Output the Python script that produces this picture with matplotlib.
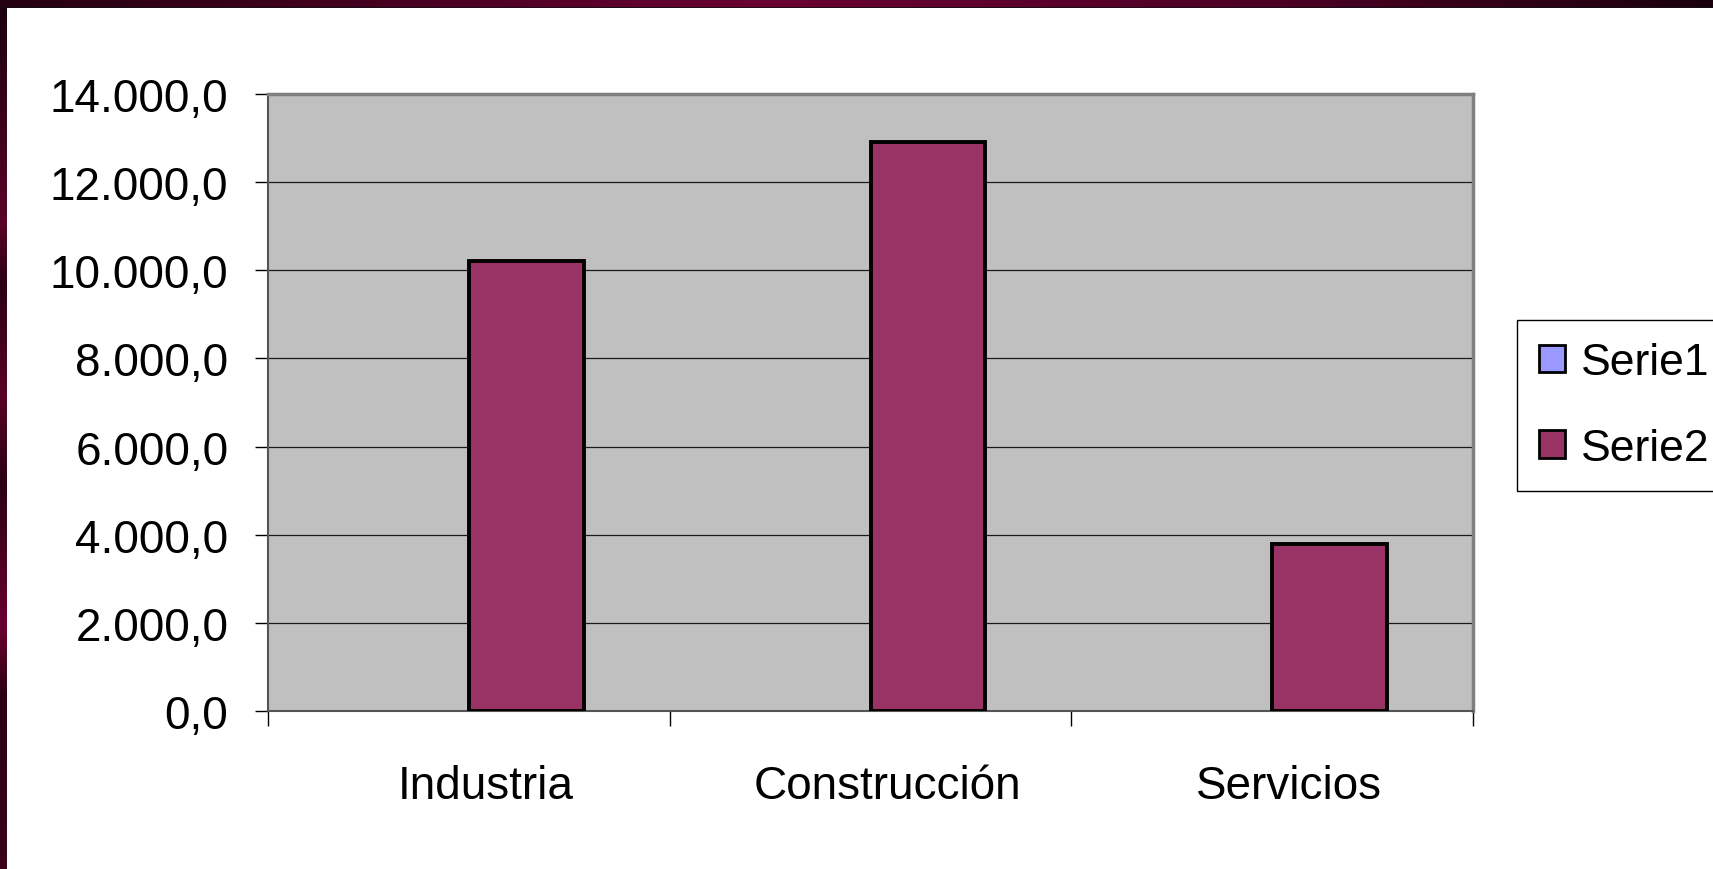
import matplotlib
matplotlib.use('Agg')
import matplotlib.pyplot as plt
import matplotlib.transforms as mtransforms
import numpy as np
from matplotlib.colors import LinearSegmentedColormap
from matplotlib.ticker import FuncFormatter, FixedLocator
from matplotlib.patches import Patch

# data
categories = ['Industria', 'Construcción', 'Servicios']
serie1 = [0, 0, 0]
serie2 = [10200, 12900, 3800]
series_names = ['Serie1', 'Serie2']
y_ticks = [0, 2000, 4000, 6000, 8000, 10000, 12000, 14000]

plt.rcParams['font.family'] = ['Liberation Sans', 'DejaVu Sans']

W, H = 1713, 870
fig = plt.figure(figsize=(W / 100, H / 100), dpi=100, facecolor='white')

# dark maroon frame on top and left of the slide
band = fig.add_axes([0, 1 - 9 / H, 1, 9 / H])
top_cmap = LinearSegmentedColormap.from_list(
    'top', [(0, '#240010'), (0.45, '#6a0032'), (0.75, '#4c0024'), (1, '#1a000c')])
band.imshow(np.linspace(0, 1, 512)[None, :], cmap=top_cmap, aspect='auto')
band.axhline(0.45, color='#111111', lw=1.2)
band.set_axis_off()

side = fig.add_axes([0, 0, 7 / W, 1 - 9 / H])
side_cmap = LinearSegmentedColormap.from_list(
    'side', [(0, '#1c0010'), (0.25, '#5a0028'), (0.32, '#2a0012'), (0.45, '#5a0028'),
             (0.55, '#2a0012'), (0.72, '#6a0030'), (0.8, '#2a0012'), (1, '#3a0018')])
side.imshow(np.linspace(0, 1, 512)[:, None], cmap=side_cmap, aspect='auto')
side.set_axis_off()

ax = fig.add_axes([268 / W, 1 - 712 / H, 1205 / W, 617 / H])
ax.set_facecolor('#C0C0C0')

x = np.arange(len(categories))
bw = 0.286
# Serie1 is empty, so no outline shows along the axis
ax.bar(x - bw / 2, serie1, bw, color='#9999FF', edgecolor='black', linewidth=0, zorder=3)
ax.bar(x + bw / 2, serie2, bw, color='#993366', edgecolor='black', linewidth=2.8, zorder=3)

ax.set_xlim(-0.5, len(categories) - 0.5)
ax.set_ylim(0, 14000)
ax.set_yticks(y_ticks)
ax.yaxis.set_major_formatter(FuncFormatter(
    lambda v, p: f'{v:,.1f}'.replace(',', 'X').replace('.', ',').replace('X', '.')))
ax.grid(axis='y', color='#1a1a1a', lw=0.9, zorder=1)
ax.set_axisbelow(True)

ax.set_xticks(x)
ax.set_xticklabels(categories)
ax.xaxis.set_minor_locator(FixedLocator(np.arange(len(categories) + 1) - 0.5))
ax.tick_params(axis='x', which='major', length=0, pad=38, labelsize=33)
ax.tick_params(axis='x', which='minor', length=11, width=1, color='black')
ax.tick_params(axis='y', length=9.5, width=1, pad=19, labelsize=33, color='black')

# category labels sit a little right of the category centre in the original
shift = mtransforms.ScaledTranslation(12 / 72, 0, fig.dpi_scale_trans)
for lab in ax.get_xticklabels():
    lab.set_transform(lab.get_transform() + shift)

for s in ['top', 'right']:
    ax.spines[s].set_color('#808080')
    ax.spines[s].set_linewidth(2.5)
for s in ['left', 'bottom']:
    ax.spines[s].set_color('#555555')
    ax.spines[s].set_linewidth(1.5)

handles = [Patch(facecolor='#9999FF', edgecolor='black', linewidth=2),
           Patch(facecolor='#993366', edgecolor='black', linewidth=2)]
leg = fig.legend(handles, series_names, loc='upper left',
                 bbox_to_anchor=(1517 / W, 1 - 321 / H), fontsize=32,
                 frameon=True, fancybox=False, shadow=False, framealpha=1,
                 edgecolor='black', handlelength=0.58, handleheight=0.58,
                 handletextpad=0.35, labelspacing=1.0, borderpad=0.5,
                 borderaxespad=0)
leg.get_frame().set_linewidth(1)

fig.savefig('out.png', dpi=100, facecolor='white')
